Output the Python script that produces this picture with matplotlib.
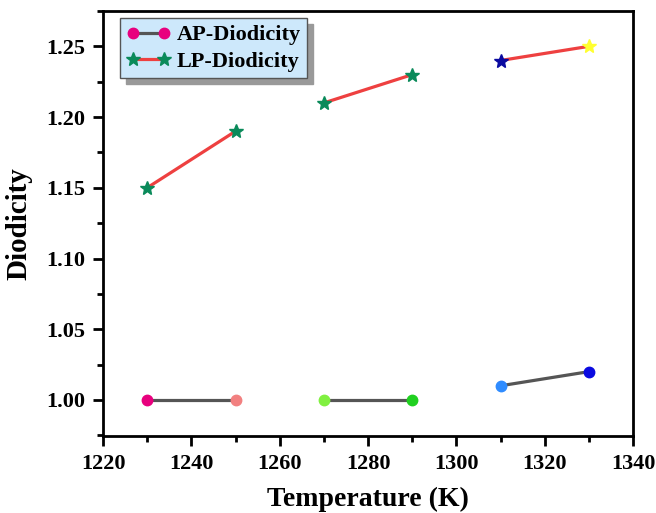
import matplotlib
matplotlib.use("Agg")
import matplotlib.pyplot as plt
from matplotlib.ticker import AutoMinorLocator

plt.rcParams['font.family'] = ['Liberation Serif', 'DejaVu Serif']
plt.rcParams['font.weight'] = 'bold'

# Data
ap_x = [[1230, 1250], [1270, 1290], [1310, 1330]]
ap_y = [[1.00, 1.00], [1.00, 1.00], [1.01, 1.02]]
ap_colors = [["#e8007e", "#f28080"], ["#80f040", "#20d020"], ["#2f8cff", "#0a0ae0"]]

lp_x = [[1230, 1250], [1270, 1290], [1310, 1330]]
lp_y = [[1.15, 1.19], [1.21, 1.23], [1.24, 1.25]]
lp_colors = [["#0a8a5a", "#0a8a5a"], ["#0a8a5a", "#0a8a5a"], ["#0a0aa0", "#ffff30"]]

xticks = [1220, 1240, 1260, 1280, 1300, 1320, 1340]
yticks = [1.00, 1.05, 1.10, 1.15, 1.20, 1.25]
ytick_labels = ["1.00", "1.05", "1.10", "1.15", "1.20", "1.25"]

fig = plt.figure(figsize=(6.56, 5.13), dpi=100)
ax = fig.add_axes([103/656, 1-436/513, (633-103)/656, (436-11)/513])

for xs, ys, cs in zip(ap_x, ap_y, ap_colors):
    ax.plot(xs, ys, color="#555555", lw=2.3, zorder=2)
    for x, y, c in zip(xs, ys, cs):
        ax.plot([x], [y], 'o', ms=7.5, color=c, mec=c, zorder=3)
for xs, ys, cs in zip(lp_x, lp_y, lp_colors):
    ax.plot(xs, ys, color="#ee4040", lw=2.3, zorder=2)
    for x, y, c in zip(xs, ys, cs):
        ax.plot([x], [y], '*', ms=10, color=c, mec=c, zorder=3)

# legend handles
h1, = ax.plot([], [], color="#555555", lw=2.3, marker='o', ms=7.5, mfc="#e8007e", mec="#e8007e")
h2, = ax.plot([], [], color="#ee4040", lw=2.3, marker='*', ms=10, mfc="#0a8a5a", mec="#0a8a5a")
leg = ax.legend([h1, h2], ["AP-Diodicity", "LP-Diodicity"], loc='upper left',
                bbox_to_anchor=(0.032, 0.983), fancybox=False,
                shadow={'color': '#999999', 'alpha': 1, 'ox': 4, 'oy': -4},
                prop={'family': 'Liberation Serif', 'weight': 'bold', 'size': 16},
                numpoints=2, handlelength=2.0, handletextpad=0.25, borderpad=0.3,
                labelspacing=0.25, borderaxespad=0, frameon=True)
leg.get_frame().set_facecolor("#cde8fb")
leg.get_frame().set_edgecolor("#555555")
leg.get_frame().set_alpha(1)
leg.get_frame().set_linewidth(1.0)

ax.set_xlim(1220, 1340)
ax.set_ylim(0.9745, 1.275)
ax.set_xticks(xticks)
ax.set_yticks(yticks)
ax.set_yticklabels(ytick_labels)
ax.xaxis.set_minor_locator(AutoMinorLocator(2))
ax.yaxis.set_minor_locator(AutoMinorLocator(2))
ax.tick_params(which='major', direction='out', length=7, width=2, labelsize=16, pad=6)
ax.tick_params(which='minor', direction='out', length=4, width=2)
ax.tick_params(top=False, right=False, which='both')
for lab in ax.get_xticklabels() + ax.get_yticklabels():
    lab.set_fontweight('bold')
for s in ax.spines.values():
    s.set_linewidth(2)

ax.set_xlabel("Temperature (K)", fontsize=20, fontweight='bold', labelpad=9)
ax.set_ylabel("Diodicity", fontsize=21, fontweight='bold', labelpad=10)

fig.savefig("out.png", dpi=100)
